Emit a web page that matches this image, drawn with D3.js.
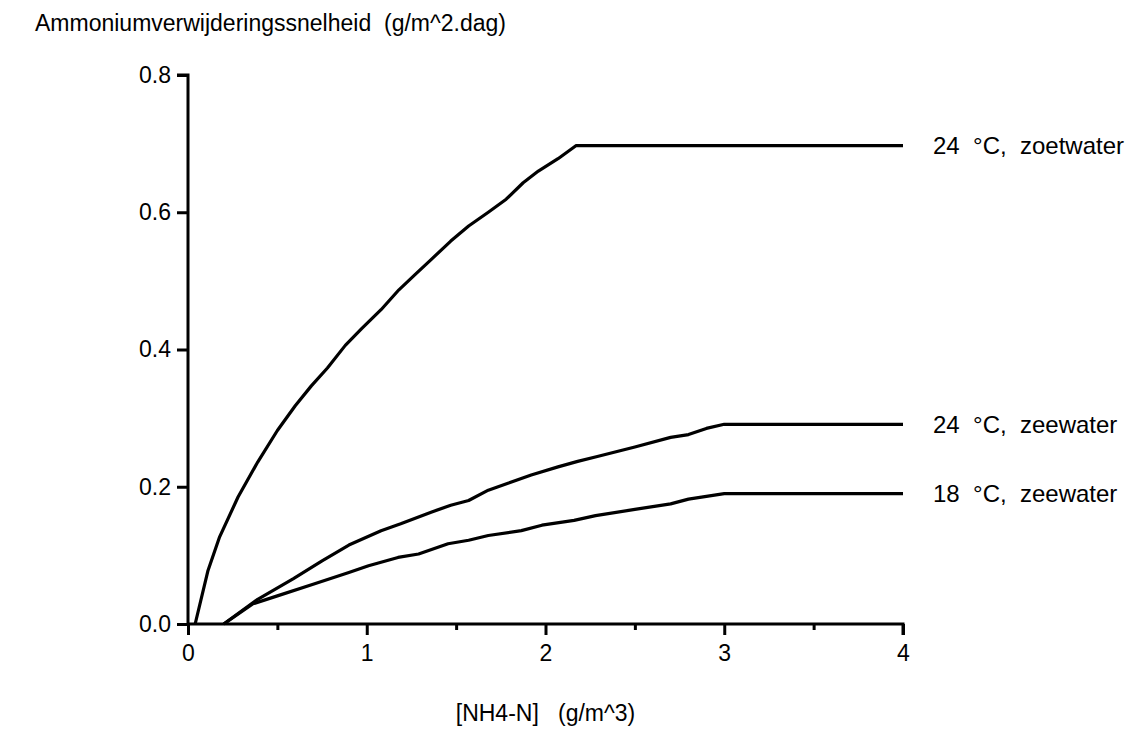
<!DOCTYPE html>
<html>
<head>
<meta charset="utf-8">
<script src="https://cdn.jsdelivr.net/npm/d3@7"></script>
<style>
  html, body { margin: 0; padding: 0; background: #fff; }
  text { font-family: "Liberation Sans", Arial, Helvetica, sans-serif; fill: #000; }
</style>
</head>
<body>
<svg id="chart" width="1145" height="732"></svg>
<script>
// ---- data ----
const seriesNames = ["24  °C,  zoetwater", "24  °C,  zeewater", "18  °C,  zeewater"];

const xZoet24 = [0.04, 0.112, 0.177, 0.28, 0.39, 0.50, 0.60, 0.69, 0.78, 0.88, 0.97, 1.08, 1.18, 1.27, 1.36, 1.47, 1.57, 1.68, 1.78, 1.875, 1.96, 2.07, 2.17, 4.0];
const yZoet24 = [0, 0.078, 0.127, 0.185, 0.236, 0.282, 0.318, 0.347, 0.373, 0.406, 0.43, 0.458, 0.487, 0.509, 0.531, 0.558, 0.580, 0.600, 0.619, 0.643, 0.660, 0.678, 0.697, 0.697];

const xZee24 = [0.2, 0.39, 0.59, 0.75, 0.90, 1.08, 1.19, 1.36, 1.47, 1.57, 1.68, 1.79, 1.92, 2.07, 2.18, 2.29, 2.5, 2.7, 2.8, 2.9, 3.0, 4.0];
const yZee24 = [0, 0.036, 0.066, 0.092, 0.115, 0.136, 0.146, 0.163, 0.173, 0.180, 0.195, 0.205, 0.217, 0.229, 0.237, 0.244, 0.258, 0.272, 0.276, 0.285, 0.291, 0.291];

const xZee18 = [0.2, 0.36, 0.50, 0.70, 0.90, 1.01, 1.175, 1.29, 1.455, 1.57, 1.68, 1.865, 1.98, 2.16, 2.28, 2.5, 2.7, 2.8, 3.0, 4.0];
const yZee18 = [0, 0.029, 0.041, 0.058, 0.075, 0.085, 0.097, 0.102, 0.117, 0.122, 0.129, 0.136, 0.144, 0.151, 0.158, 0.167, 0.175, 0.182, 0.19, 0.19];

const xTicks = [0, 1, 2, 3, 4];
const xMinorTicks = [0.5, 1.5, 2.5, 3.5];
const yTicks = [0, 0.2, 0.4, 0.6, 0.8];

const yTitle = "Ammoniumverwijderingssnelheid  (g/m^2.dag)";
const xTitle = "[NH4-N]   (g/m^3)";

// ---- layout ----
const svg = d3.select("#chart");
const x = d3.scaleLinear().domain([0, 4]).range([188, 903]);
const y = d3.scaleLinear().domain([0, 0.8]).range([624, 75]);
const tickFont = 23;
const labelFont = 24;
const titleFont = 23;

const series = [
  { name: seriesNames[0], xs: xZoet24, ys: yZoet24 },
  { name: seriesNames[1], xs: xZee24, ys: yZee24 },
  { name: seriesNames[2], xs: xZee18, ys: yZee18 }
];

// axes
const yAxis = d3.axisLeft(y).tickValues(yTicks).tickFormat(d3.format(".1f")).tickSize(11).tickPadding(6);
const gy = svg.append("g").attr("transform", `translate(${x(0)},0)`).call(yAxis);

const xAxis = d3.axisBottom(x).tickValues(xTicks).tickFormat(d3.format("d")).tickSize(11).tickPadding(10);
const gx = svg.append("g").attr("transform", `translate(0,${y(0)})`).call(xAxis);

const xMinor = d3.axisBottom(x).tickValues(xMinorTicks).tickFormat("").tickSize(6);
const gxm = svg.append("g").attr("transform", `translate(0,${y(0)})`).call(xMinor);
gxm.select(".domain").remove();

[gy, gx, gxm].forEach(g => {
  g.selectAll(".domain").attr("stroke", "#000").attr("stroke-width", 3);
  g.selectAll(".tick line").attr("stroke", "#000").attr("stroke-width", 3);
  g.selectAll(".tick text").attr("font-size", tickFont).attr("font-family", "Liberation Sans, Arial, sans-serif").attr("fill", "#000");
});
gy.select(".domain").attr("d", `M-11,${y(0.8)}H0V${y(0)}`);
gx.select(".domain").attr("d", `M${x(0)},0H${x(4)}V11`);

// lines
const line = d3.line().x(d => x(d[0])).y(d => y(d[1]));
series.forEach(s => {
  const pts = s.xs.map((v, i) => [v, s.ys[i]]);
  svg.append("path")
    .attr("d", line(pts))
    .attr("fill", "none")
    .attr("stroke", "#000")
    .attr("stroke-width", 3.2)
    .attr("stroke-linejoin", "round")
    .attr("stroke-linecap", "butt");
  const last = pts[pts.length - 1];
  svg.append("text")
    .attr("x", x(last[0]) + 30)
    .attr("y", y(last[1]))
    .attr("dy", "0.35em")
    .attr("font-size", labelFont)
    .style("white-space", "pre")
    .text(s.name);
});

// titles
svg.append("text")
  .attr("x", 35).attr("y", 31)
  .attr("font-size", titleFont)
  .style("white-space", "pre")
  .text(yTitle);

svg.append("text")
  .attr("x", x(2)).attr("y", 721)
  .attr("text-anchor", "middle")
  .attr("font-size", titleFont)
  .style("white-space", "pre")
  .text(xTitle);
</script>
</body>
</html>
